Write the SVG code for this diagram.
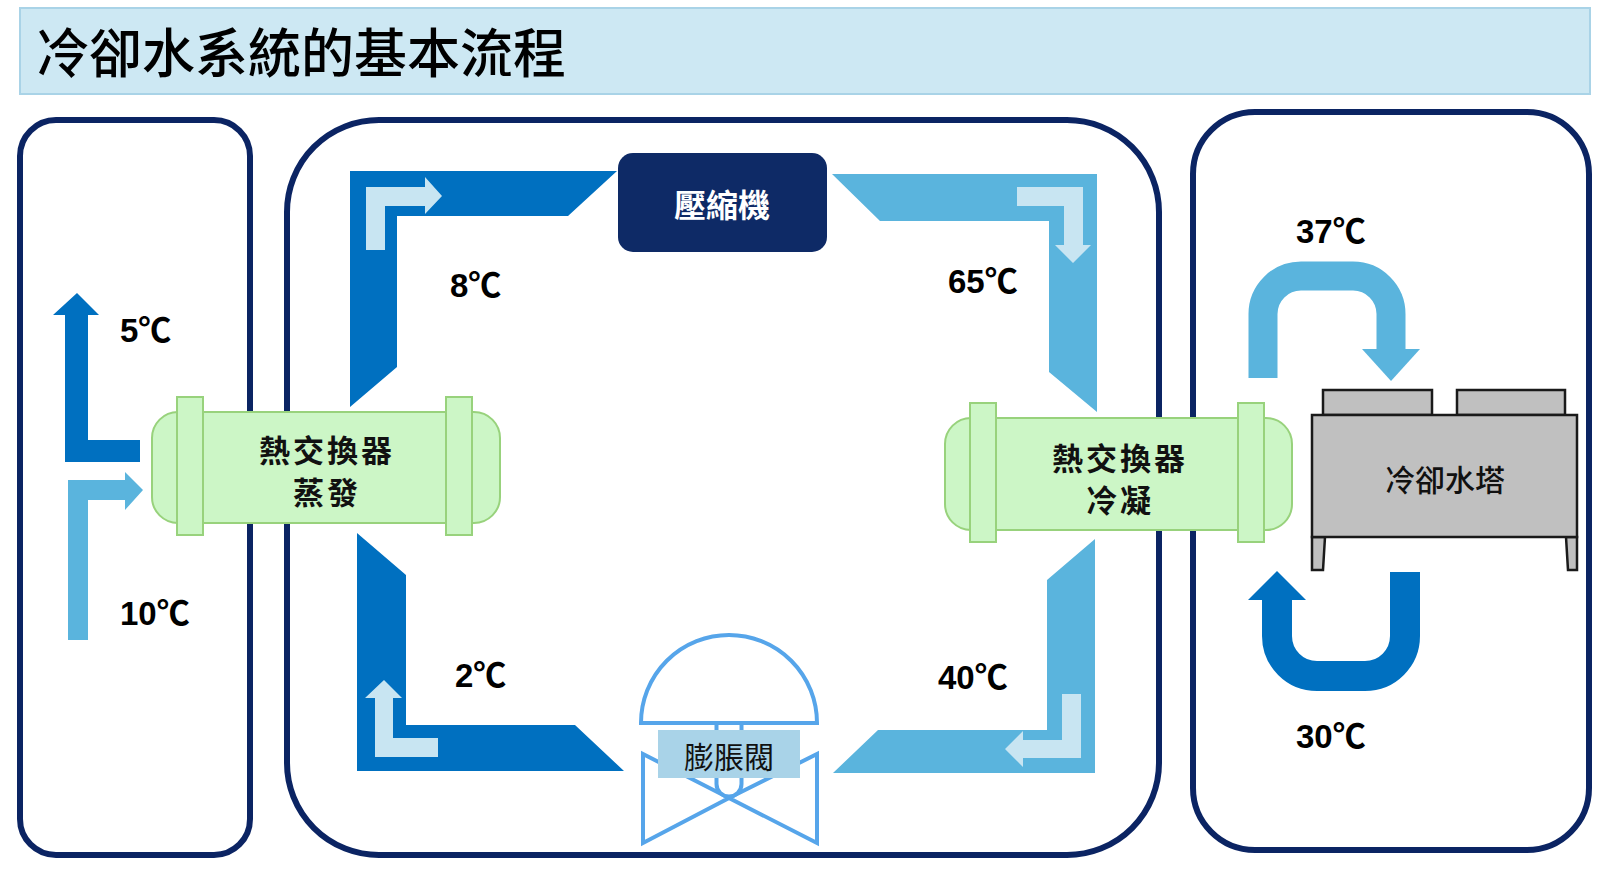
<svg xmlns="http://www.w3.org/2000/svg" width="1600" height="869" viewBox="0 0 1600 869">
<style>
.panel{fill:none;stroke:#0b2463;stroke-width:6}
.dark{fill:#0070c0}
.light{fill:#5ab4dd}
.pale{fill:#c8e5f2}
.hxbody{fill:#ccf6c6;stroke:#98d27c;stroke-width:2}
.flange{fill:#ccf6c6;stroke:#98d27c;stroke-width:2}
.hxt{font-family:"Noto Sans CJK TC","Noto Sans CJK SC",sans-serif;font-size:31px;font-weight:bold;fill:#111;text-anchor:middle;dominant-baseline:central;letter-spacing:3px}
.temp{font-family:"Liberation Sans","Noto Sans CJK TC",sans-serif;font-size:33px;font-weight:bold;fill:#000}
.valve{fill:#fff;stroke:#56a5ea;stroke-width:4}
.tower{fill:#c0c0c0;stroke:#1a1a1a;stroke-width:2.5}
</style>
<rect width="1600" height="869" fill="#fff"/>
<g id="title">
<rect x="20" y="8" width="1570" height="86" fill="#cde8f3" stroke="#a9d3e7" stroke-width="2"/>
<text x="36" y="50" font-family="'Noto Sans CJK TC','Noto Sans CJK SC',sans-serif" font-size="53" font-weight="500" fill="#000" dominant-baseline="central">冷卻水系統的基本流程</text>
</g>
<g id="panel-left"><rect class="panel" x="20" y="120" width="230" height="735" rx="36"/></g>
<g id="panel-middle"><rect class="panel" x="287" y="120" width="872" height="735" rx="92"/></g>
<g id="panel-right"><rect class="panel" x="1193" y="112" width="396" height="738" rx="62"/></g>

<g id="connectors">
<polygon class="dark" points="350,171 617,171 568,216 397,216 397,367 350,407"/>
<polygon class="pale" points="366,187 425,187 425,177 442,196 425,214 425,206 385,206 385,250 366,250"/>
<polygon class="light" points="832,174 1097,174 1097,412 1049,372 1049,221 880,221"/>
<polygon class="pale" points="1017,187 1083,187 1083,245 1091,245 1073,263 1055,245 1064,245 1064,206 1017,206"/>
<polygon class="dark" points="357,533 406,575 406,725 575,725 624,771 357,771"/>
<polygon class="pale" points="375,757 438,757 438,738 393,738 393,698 402,698 384,680 365,698 375,698"/>
<polygon class="light" points="1095,539 1095,773 833,773 878,730 1047,730 1047,580"/>
<polygon class="pale" points="1081,694 1081,758 1023,758 1023,767 1005,749 1023,731 1023,740 1062,740 1062,694"/>
<polygon class="dark" points="65,462 140,462 140,440 88,440 88,315 99,315 77,293 53,315 65,315"/>
<polygon class="light" points="68,640 88,640 88,500 125,500 125,510 143,490 125,472 125,480 68,480"/>
<path d="M1263,378 V314 A38,38 0 0 1 1301,276 H1353 A38,38 0 0 1 1391,314 V350" fill="none" stroke="#5ab4dd" stroke-width="29"/>
<polygon class="light" points="1362,349 1420,349 1391,381"/>
<path d="M1405,572 V636 A40,40 0 0 1 1365,676 H1317 A40,40 0 0 1 1277,636 V599" fill="none" stroke="#0070c0" stroke-width="30"/>
<polygon class="dark" points="1248,600 1306,600 1277,571"/>
</g>

<g id="compressor">
<rect x="618" y="153" width="209" height="99" rx="15" fill="#0e2a66"/>
<text x="722" y="203" font-family="'Noto Sans CJK TC','Noto Sans CJK SC',sans-serif" font-size="32" font-weight="bold" fill="#fff" text-anchor="middle" dominant-baseline="central">壓縮機</text>
</g>

<g id="hx-evap">
<rect class="hxbody" x="152" y="412" width="348" height="111" rx="26"/>
<rect class="flange" x="177" y="397" width="26" height="138"/>
<rect class="flange" x="446" y="397" width="26" height="138"/>
<text class="hxt" x="327" y="448">熱交換器</text>
<text class="hxt" x="327" y="490">蒸發</text>
</g>

<g id="hx-cond">
<rect class="hxbody" x="945" y="418" width="347" height="112" rx="26"/>
<rect class="flange" x="970" y="403" width="26" height="139"/>
<rect class="flange" x="1238" y="403" width="26" height="139"/>
<text class="hxt" x="1120" y="456">熱交換器</text>
<text class="hxt" x="1120" y="498">冷凝</text>
</g>

<g id="valve">
<polygon class="valve" points="643,754 643,843 729,798"/>
<polygon class="valve" points="817,754 817,843 729,798"/>
<path class="valve" d="M716.5,723 V784 A12.5,12.5 0 0 0 741.5,784 V723"/>
<path class="valve" d="M641,723 A88,88 0 0 1 817,723 Z"/>
<rect x="658" y="730" width="142" height="48" fill="#a9d3e8"/>
<text x="729" y="755" font-family="'Noto Sans CJK TC','Noto Sans CJK SC',sans-serif" font-size="30" fill="#111" text-anchor="middle" dominant-baseline="central">膨脹閥</text>
</g>

<g id="cooling-tower">
<rect class="tower" x="1323" y="390" width="109" height="25"/>
<rect class="tower" x="1457" y="390" width="108" height="25"/>
<polygon class="tower" points="1312,537 1325,537 1323,570 1312,570"/>
<polygon class="tower" points="1566,537 1577,537 1577,570 1568,570"/>
<rect class="tower" x="1312" y="415" width="265" height="122"/>
<text x="1445" y="478" font-family="'Noto Sans CJK TC','Noto Sans CJK SC',sans-serif" font-size="30" font-weight="500" fill="#111" text-anchor="middle" dominant-baseline="central">冷卻水塔</text>
</g>

<g id="labels">
<text class="temp" x="450" y="297">8℃</text>
<text class="temp" x="948" y="293">65℃</text>
<text class="temp" x="455" y="687">2℃</text>
<text class="temp" x="938" y="689">40℃</text>
<text class="temp" x="120" y="342">5℃</text>
<text class="temp" x="120" y="625">10℃</text>
<text class="temp" x="1296" y="243">37℃</text>
<text class="temp" x="1296" y="748">30℃</text>
</g>
</svg>
